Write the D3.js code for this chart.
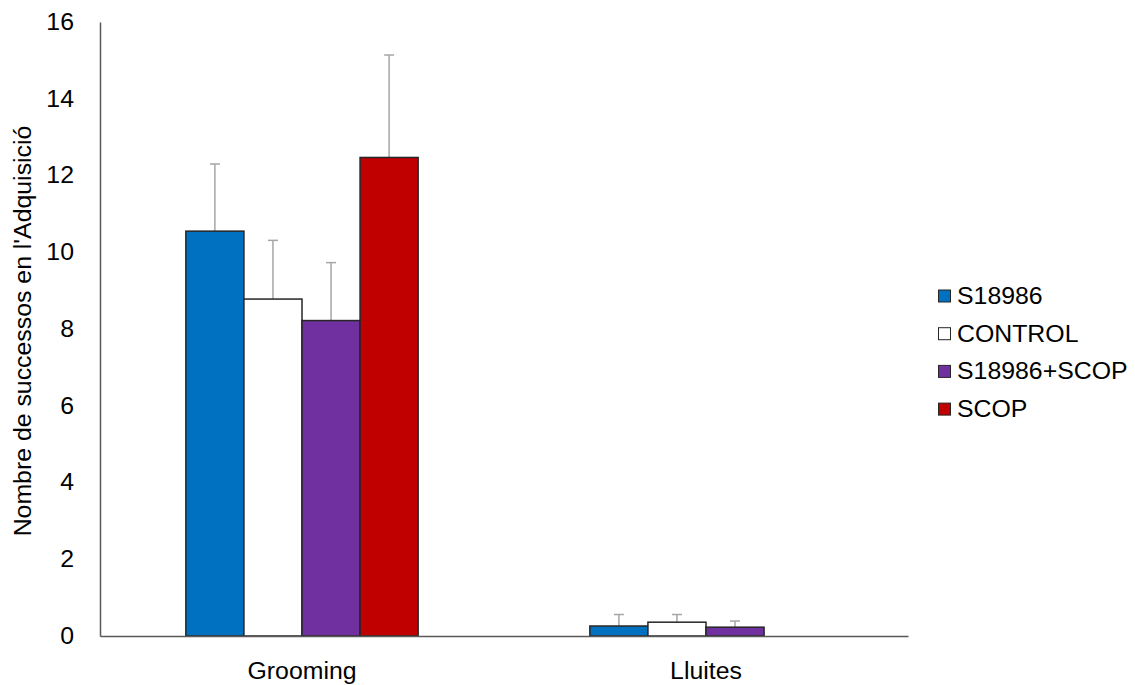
<!DOCTYPE html>
<html>
<head>
<meta charset="utf-8">
<script src="https://cdn.jsdelivr.net/npm/d3@7"></script>
<style>
  html, body { margin: 0; padding: 0; background: #fff; }
  svg { display: block; font-family: "Liberation Sans", Arial, sans-serif; }
</style>
</head>
<body>
<svg id="chart" width="1135" height="685"></svg>
<script>
// Behaviour categories on the x axis
const categories = ["Grooming", "Lluites"];
// Treatment groups (series)
const series = ["S18986", "CONTROL", "S18986+SCOP", "SCOP"];
const colors = ["#0070C0", "#FFFFFF", "#7030A0", "#C00000"];
// Mean values per series, in category order
const meanS18986 = [10.55, 0.26];
const meanControl = [8.78, 0.36];
const meanS18986Scop = [8.22, 0.23];
const meanScop = [12.47, 0];
// Upper error (SEM) per series, in category order
const errS18986 = [1.75, 0.30];
const errControl = [1.53, 0.20];
const errS18986Scop = [1.51, 0.16];
const errScop = [2.67, 0];
const yTicks = [0, 2, 4, 6, 8, 10, 12, 14, 16];

const means = [meanS18986, meanControl, meanS18986Scop, meanScop];
const errs = [errS18986, errControl, errS18986Scop, errScop];

const FONT = 23;
const STRETCH = 1.08; // slightly wide lettering
const svg = d3.select("#chart");
const margin = { left: 100, right: 227, top: 22, bottom: 49 };
const W = 1135, H = 685;

// Widen a text element along its own baseline
function widen(sel) {
  sel.each(function () {
    const len = this.getComputedTextLength();
    this.setAttribute("textLength", len * STRETCH);
    this.setAttribute("lengthAdjust", "spacingAndGlyphs");
  });
}

const x0 = d3.scaleBand()
  .domain(categories)
  .range([margin.left, W - margin.right])
  .paddingInner(0)
  .paddingOuter(0);

// Group width leaves roughly three bar widths of gap per category
const groupW = x0.bandwidth() * 0.575;
const x1 = d3.scaleBand()
  .domain(series)
  .range([0, groupW])
  .padding(0);

const y = d3.scaleLinear().domain([0, 16]).range([H - margin.bottom, margin.top]);

// Flatten into one record per bar
const rows = [];
categories.forEach((c, ci) => {
  series.forEach((s, si) => {
    rows.push({ cat: c, ser: s, si, v: means[si][ci], e: errs[si][ci] });
  });
});

const g = svg.append("g");
const off = (x0.bandwidth() - groupW) / 2;
const cx = d => x0(d.cat) + off + x1(d.ser) + x1.bandwidth() / 2;

// Error bars (upper only)
const eb = g.append("g").selectAll("g")
  .data(rows.filter(d => d.v > 0))
  .join("g")
  .attr("stroke", "#A6A6A6")
  .attr("stroke-width", 1.5);
eb.append("line")
  .attr("x1", cx).attr("x2", cx)
  .attr("y1", d => y(d.v))
  .attr("y2", d => y(d.v + d.e));
eb.append("line")
  .attr("x1", d => cx(d) - 5)
  .attr("x2", d => cx(d) + 5)
  .attr("y1", d => y(d.v + d.e))
  .attr("y2", d => y(d.v + d.e));

g.append("g").selectAll("rect")
  .data(rows.filter(d => d.v > 0))
  .join("rect")
  .attr("x", d => x0(d.cat) + off + x1(d.ser))
  .attr("y", d => y(d.v))
  .attr("width", x1.bandwidth())
  .attr("height", d => y(0) - y(d.v))
  .attr("fill", d => colors[d.si])
  .attr("stroke", "#262626")
  .attr("stroke-width", 1.5);

// Y axis
const yAxis = d3.axisLeft(y).tickValues(yTicks).tickSize(0).tickPadding(26);
const ya = svg.append("g").attr("transform", `translate(${margin.left},0)`).call(yAxis);
ya.select(".domain").attr("stroke", "#595959").attr("stroke-width", 1.5);
ya.selectAll("text").attr("font-size", FONT).attr("fill", "#000")
  .attr("font-family", "Liberation Sans, Arial, sans-serif")
  .call(widen);

// X axis
const xAxis = d3.axisBottom(x0).tickSize(0).tickPadding(27);
const xa = svg.append("g").attr("transform", `translate(0,${y(0)})`).call(xAxis);
xa.select(".domain").attr("stroke", "#595959").attr("stroke-width", 1.5);
xa.selectAll("text").attr("font-size", FONT).attr("fill", "#000")
  .attr("font-family", "Liberation Sans, Arial, sans-serif")
  .call(widen);

// Y axis title
svg.append("text")
  .attr("transform", `translate(31,${(y(0) + y(16)) / 2 + 2}) rotate(-90)`)
  .attr("text-anchor", "middle")
  .attr("font-size", FONT)
  .attr("fill", "#000")
  .text("Nombre de successos en l'Adquisició")
  .call(widen);

// Legend
const leg = svg.append("g").attr("transform", "translate(938,296)");
const li = leg.selectAll("g").data(series).join("g")
  .attr("transform", (d, i) => `translate(0,${i * 37.7})`);
li.append("rect")
  .attr("x", 0.5).attr("y", -6).attr("width", 12).attr("height", 12)
  .attr("fill", (d, i) => colors[i])
  .attr("stroke", "#262626").attr("stroke-width", 1);
li.append("text")
  .attr("x", 19).attr("y", 0).attr("dy", "0.35em")
  .attr("font-size", FONT).attr("fill", "#000")
  .text(d => d)
  .call(widen);
</script>
</body>
</html>
